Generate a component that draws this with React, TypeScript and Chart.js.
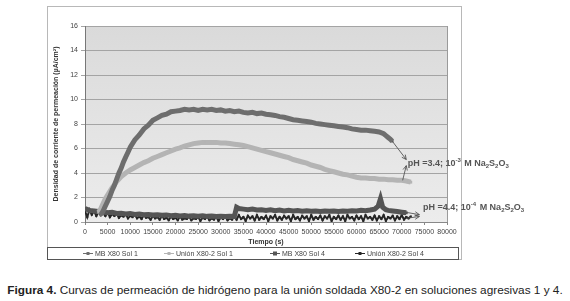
import React, { useEffect, useRef } from "react";
import { Chart, registerables } from "chart.js";

Chart.register(...registerables);

const FONT = "'Liberation Sans', Arial, sans-serif";

const xTicksRange = [0, 80000, 5000];
const yTicksRange = [0, 16, 2];

const seriesLabels = ["MB X80 Sol 1", "Unión X80-2 Sol 1", "MB X80 Sol 4", "Unión X80-2 Sol 4"];
const seriesColors = ["#6e6e6e", "#b4b4b4", "#555555", "#262626"];

const mbSol1: [number, number][] = [
  [3500, 0.6], [4000, 0.9], [4500, 1.3], [5000, 1.7], [5500, 2.1], [6000, 2.6], [6500, 3.0], [7000, 3.5],
  [7500, 4.0], [8000, 4.4], [8500, 4.9], [9000, 5.3], [9500, 5.7], [10000, 6.1], [11000, 6.7], [12000, 7.1],
  [13000, 7.6], [14000, 7.9], [15000, 8.3], [16000, 8.5], [17000, 8.7], [18000, 8.8], [19000, 9.0],
  [20000, 9.05], [21000, 9.1], [22000, 9.2], [23000, 9.15], [24000, 9.2], [25000, 9.1], [26000, 9.2],
  [27000, 9.15], [28000, 9.2], [29000, 9.1], [30000, 9.15], [31000, 9.05], [32000, 9.1], [33000, 9.0],
  [34000, 9.05], [35000, 8.95], [36000, 8.9], [37000, 8.95], [38000, 8.85], [39000, 8.9], [40000, 8.8],
  [41000, 8.75], [42000, 8.7], [43000, 8.6], [44000, 8.55], [45000, 8.45], [46000, 8.35], [47000, 8.3],
  [48000, 8.25], [49000, 8.2], [50000, 8.15], [51000, 8.05], [52000, 8.0], [53000, 7.95], [54000, 7.9],
  [55000, 7.85], [56000, 7.8], [57000, 7.75], [58000, 7.7], [59000, 7.6], [60000, 7.55], [61000, 7.5],
  [62000, 7.5], [63000, 7.45], [64000, 7.4], [65000, 7.35], [66000, 7.2], [66500, 7.05], [67000, 6.9],
  [67500, 6.75], [67900, 6.6],
];

const unionSol1: [number, number][] = [
  [3000, 0.8], [3500, 1.1], [4000, 1.5], [4500, 1.9], [5000, 2.2], [5500, 2.5], [6000, 2.8], [6500, 3.05],
  [7000, 3.3], [7500, 3.5], [8000, 3.7], [9000, 4.0], [10000, 4.25], [11000, 4.45], [12000, 4.65],
  [13000, 4.85], [14000, 5.0], [15000, 5.2], [16000, 5.35], [17000, 5.5], [18000, 5.65], [19000, 5.8],
  [20000, 5.95], [21000, 6.05], [22000, 6.2], [23000, 6.3], [24000, 6.4], [25000, 6.45], [26000, 6.5],
  [27000, 6.5], [28000, 6.5], [29000, 6.5], [30000, 6.45], [31000, 6.45], [32000, 6.4], [33000, 6.35],
  [34000, 6.3], [35000, 6.25], [36000, 6.15], [37000, 6.05], [38000, 5.95], [39000, 5.85], [40000, 5.75],
  [41000, 5.65], [42000, 5.55], [43000, 5.45], [44000, 5.35], [45000, 5.25], [46000, 5.1], [47000, 5.0],
  [48000, 4.9], [49000, 4.8], [50000, 4.65], [51000, 4.55], [52000, 4.45], [53000, 4.3], [54000, 4.2],
  [55000, 4.1], [56000, 4.0], [57000, 3.9], [58000, 3.85], [59000, 3.75], [60000, 3.65], [61000, 3.6],
  [62000, 3.6], [63000, 3.55], [64000, 3.55], [65000, 3.5], [66000, 3.5], [67000, 3.45], [68000, 3.45],
  [69000, 3.4], [70000, 3.4], [71000, 3.35], [72000, 3.25],
];

const mbSol4: [number, number][] = [
  [0, 1.1], [1000, 0.95], [2000, 0.9], [3000, 0.85], [4000, 0.8], [5000, 0.75], [6000, 0.8], [7000, 0.7],
  [8000, 0.72], [9000, 0.65], [10000, 0.7], [11000, 0.62], [12000, 0.65], [13000, 0.6], [14000, 0.62],
  [15000, 0.58], [16000, 0.6], [17000, 0.55], [18000, 0.58], [19000, 0.52], [20000, 0.55], [21000, 0.5],
  [22000, 0.53], [23000, 0.48], [24000, 0.5], [25000, 0.47], [26000, 0.5], [27000, 0.46], [28000, 0.48],
  [29000, 0.45], [30000, 0.47], [31000, 0.44], [32000, 0.46], [33000, 0.45], [33500, 1.2], [34000, 1.1],
  [35000, 1.05], [36000, 1.0], [37000, 1.05], [38000, 0.98], [39000, 1.0], [40000, 0.95], [41000, 1.0],
  [42000, 0.92], [43000, 0.97], [44000, 0.9], [45000, 0.95], [46000, 0.9], [47000, 0.93], [48000, 0.88],
  [49000, 0.92], [50000, 0.88], [51000, 0.9], [52000, 0.86], [53000, 0.9], [54000, 0.87], [55000, 0.9],
  [56000, 0.86], [57000, 0.9], [58000, 0.88], [59000, 0.92], [60000, 0.9], [61000, 0.95], [62000, 0.92],
  [63000, 0.98], [64000, 1.05], [64800, 1.3], [65300, 1.9], [65800, 1.2], [66500, 1.0], [67000, 0.95],
  [68000, 0.9], [69000, 0.85], [70000, 0.8], [71000, 0.75],
];

const unionSol4: [number, number][] = [
  [0, 0.9], [500, 0.4], [1000, 1.0], [1500, 0.6], [2000, 0.9], [2500, 0.5], [3000, 0.8], [3500, 0.55],
  [4000, 0.75], [4500, 0.5], [5000, 0.8], [5500, 0.4], [6000, 0.65], [6500, 0.5], [7000, 0.7],
  [7500, 0.35], [8000, 0.55], [8500, 0.45], [9000, 0.65], [9500, 0.3], [10000, 0.5], [10500, 0.4],
  [11000, 0.6], [11500, 0.3], [12000, 0.45], [12500, 0.25], [13000, 0.55], [13500, 0.35], [14000, 0.4],
  [14500, 0.2], [15000, 0.5], [15500, 0.3], [16000, 0.4], [16500, 0.2], [17000, 0.5], [17500, 0.25],
  [18000, 0.35], [18500, 0.15], [19000, 0.45], [19500, 0.25], [20000, 0.35], [20500, 0.15], [21000, 0.45],
  [21500, 0.2], [22000, 0.3], [22500, 0.25], [23000, 0.45], [23500, 0.15], [24000, 0.3], [24500, 0.25],
  [25000, 0.4], [25500, 0.1], [26000, 0.35], [26500, 0.25], [27000, 0.45], [27500, 0.15], [28000, 0.3],
  [28500, 0.2], [29000, 0.4], [29500, 0.1], [30000, 0.35], [30500, 0.25], [31000, 0.45], [31500, 0.15],
  [32000, 0.3], [32500, 0.2], [33000, 0.45], [33500, 0.2], [34000, 0.55], [34500, 0.25], [35000, 0.4],
  [35500, 0.1], [36000, 0.5], [36500, 0.3], [37000, 0.45], [37500, 0.15], [38000, 0.55], [38500, 0.2],
  [39000, 0.4], [39500, 0.25], [40000, 0.5], [40500, 0.1], [41000, 0.45], [41500, 0.3], [42000, 0.55],
  [42500, 0.15], [43000, 0.4], [43500, 0.2], [44000, 0.5], [44500, 0.3], [45000, 0.45], [45500, 0.1],
  [46000, 0.55], [46500, 0.25], [47000, 0.4], [47500, 0.15], [48000, 0.5], [48500, 0.3], [49000, 0.45],
  [49500, 0.1], [50000, 0.55], [50500, 0.2], [51000, 0.4], [51500, 0.25], [52000, 0.5], [52500, 0.15],
  [53000, 0.45], [53500, 0.3], [54000, 0.55], [54500, 0.1], [55000, 0.4], [55500, 0.25], [56000, 0.5],
  [56500, 0.2], [57000, 0.45], [57500, 0.1], [58000, 0.55], [58500, 0.3], [59000, 0.4], [59500, 0.15],
  [60000, 0.5], [60500, 0.25], [61000, 0.45], [61500, 0.1], [62000, 0.55], [62500, 0.3], [63000, 0.4],
  [63500, 0.2], [64000, 0.5], [64500, 0.15], [65000, 0.45], [65500, 0.25], [66000, 0.55], [66500, 0.1],
  [67000, 0.4], [67500, 0.3], [68000, 0.5], [68500, 0.15], [69000, 0.45], [69500, 0.25], [70000, 0.55],
  [70500, 0.2], [71000, 0.4], [71500, 0.3], [72000, 0.45],
];

// label segments: [text, kind] kind: n normal, u superscript, d subscript
const noteSegments: [string, string][][] = [
  [["pH =3.4; 10", "n"], ["-3", "u"], [" M Na", "n"], ["2", "d"], ["S", "n"], ["2", "d"], ["O", "n"], ["3", "d"]],
  [["pH =4.4; 10", "n"], ["-4", "u"], [" M Na", "n"], ["2", "d"], ["S", "n"], ["2", "d"], ["O", "n"], ["3", "d"]],
];
const noteAnchors: [number, number][] = [[71300, 4.85], [74700, 1.25]];
const noteArrows: [number, number, number, number][] = [
  [67900, 6.6, 71000, 5.1],
  [70200, 3.4, 71000, 4.6],
  [70000, 0.85, 73900, 0.6],
  [71000, 0.3, 73900, 0.45],
];

const yTitle = "Densidad de corriente de permeación (µA/cm²)";
const xTitle = "Tiempo (s)";

function drawArrow(ctx: CanvasRenderingContext2D, x1: number, y1: number, x2: number, y2: number) {
  const a = Math.atan2(y2 - y1, x2 - x1);
  const h = 5;
  ctx.beginPath();
  ctx.moveTo(x1, y1);
  ctx.lineTo(x2, y2);
  ctx.moveTo(x2 - h * Math.cos(a - 0.45), y2 - h * Math.sin(a - 0.45));
  ctx.lineTo(x2, y2);
  ctx.lineTo(x2 - h * Math.cos(a + 0.45), y2 - h * Math.sin(a + 0.45));
  ctx.stroke();
}

const decorPlugin = {
  id: "decor",
  beforeDraw(chart: any) {
    const { ctx, chartArea } = chart;
    ctx.save();
    ctx.fillStyle = "#ffffff";
    ctx.fillRect(0, 0, chart.width, chart.height);
    ctx.strokeStyle = "#b8b8b8";
    ctx.lineWidth = 1;
    ctx.strokeRect(47.5, 6.5, 414, 253);
    const g = ctx.createLinearGradient(0, chartArea.top, 0, chartArea.bottom);
    g.addColorStop(0, "#dadada");
    g.addColorStop(1, "#ececec");
    ctx.fillStyle = g;
    ctx.fillRect(chartArea.left, chartArea.top, chartArea.right - chartArea.left, chartArea.bottom - chartArea.top);
    ctx.restore();
  },
  afterDraw(chart: any) {
    const { ctx, chartArea, scales } = chart;
    const xs = scales.x, ys = scales.y;
    ctx.save();
    ctx.strokeStyle = "#9a9a9a";
    ctx.lineWidth = 1;
    ctx.beginPath();
    ctx.moveTo(Math.round(chartArea.right) + 0.5, chartArea.top);
    ctx.lineTo(Math.round(chartArea.right) + 0.5, chartArea.bottom);
    ctx.stroke();
    ctx.strokeStyle = "#555";
    ctx.lineWidth = 0.9;
    noteArrows.forEach(([a, b, c, d]) => {
      drawArrow(ctx, xs.getPixelForValue(a), ys.getPixelForValue(b), xs.getPixelForValue(c), ys.getPixelForValue(d));
    });
    ctx.fillStyle = "#555";
    ctx.textBaseline = "alphabetic";
    ctx.textAlign = "left";
    noteSegments.forEach((segs, i) => {
      let x = xs.getPixelForValue(noteAnchors[i][0]);
      const base = ys.getPixelForValue(noteAnchors[i][1]) + 3;
      segs.forEach(([t, k]) => {
        if (k === "n") {
          ctx.font = `bold 9px ${FONT}`;
          ctx.fillText(t, x, base);
        } else {
          ctx.font = `bold 6px ${FONT}`;
          ctx.fillText(t, x, k === "u" ? base - 4 : base + 2);
        }
        x += ctx.measureText(t).width + (k === "u" ? 1 : 0);
      });
    });
    // legend
    ctx.strokeStyle = "#555";
    ctx.lineWidth = 1;
    ctx.fillStyle = "#ffffff";
    ctx.fillRect(47.5, 247.5, 411, 12);
    ctx.strokeRect(47.5, 247.5, 411, 12);
    const starts = [83, 164, 270, 355];
    ctx.font = `7px ${FONT}`;
    ctx.textBaseline = "middle";
    chart.data.datasets.forEach((ds: any, i: number) => {
      const x0 = starts[i];
      const y0 = 253.5;
      ctx.strokeStyle = ds.borderColor;
      ctx.lineWidth = 1;
      ctx.beginPath();
      ctx.moveTo(x0, y0);
      ctx.lineTo(x0 + 10, y0);
      ctx.stroke();
      ctx.fillStyle = ds.borderColor;
      const s = i === 2 ? 4 : 3;
      ctx.fillRect(x0 + 5 - s / 2, y0 - s / 2, s, s);
      ctx.fillStyle = "#444";
      ctx.fillText(ds.label, x0 + 12, y0 + 0.5);
    });
    ctx.restore();
  },
};

export default function App() {
  const ref = useRef<HTMLCanvasElement | null>(null);
  useEffect(() => {
    if (!ref.current) return;
    const toXY = (arr: [number, number][]) => arr.map(([x, y]) => ({ x, y }));
    const all = [mbSol1, unionSol1, mbSol4, unionSol4];
    const widths = [5, 5, 5, 2];
    const radii = [2, 2, 2, 1.5];
    const chart = new Chart(ref.current, {
      type: "line",
      data: {
        datasets: all.map((d, i) => ({
          label: seriesLabels[i],
          data: toXY(d),
          borderColor: seriesColors[i],
          backgroundColor: seriesColors[i],
          borderWidth: widths[i],
          pointStyle: "rect",
          pointRadius: radii[i],
          pointBorderWidth: 0,
          tension: 0,
          fill: false,
        })),
      },
      options: {
        animation: false,
        responsive: false,
        maintainAspectRatio: false,
        layout: { padding: { left: 50, right: 123, top: 26, bottom: 15 } },
        plugins: { legend: { display: false }, tooltip: { enabled: false } },
        scales: {
          x: {
            type: "linear",
            min: xTicksRange[0],
            max: xTicksRange[1],
            afterFit: (s: any) => { s.height = 25; },
            ticks: {
              stepSize: xTicksRange[2],
              autoSkip: false,
              maxRotation: 0,
              minRotation: 0,
              padding: 3,
              color: "#444",
              font: { size: 7, family: FONT },
              callback: (v: any) => String(v),
            },
            grid: { drawOnChartArea: false, drawTicks: true, tickLength: 3, color: "#888" },
            border: { color: "#888", width: 1 },
            title: { display: true, text: xTitle, color: "#333", font: { size: 7, weight: "bold", family: FONT }, padding: { top: 0, bottom: 1 } },
          },
          y: {
            min: yTicksRange[0],
            max: yTicksRange[1],
            afterFit: (s: any) => { s.width = 35; },
            ticks: { stepSize: yTicksRange[2], padding: 3, color: "#444", font: { size: 7, family: FONT } },
            grid: { color: "#a4a4a4", lineWidth: 1, tickLength: 4 },
            border: { color: "#777", width: 1 },
            title: { display: true, text: yTitle, color: "#333", font: { size: 7, weight: "bold", family: FONT }, padding: { top: 2, bottom: 0 } },
          },
        },
      },
      plugins: [decorPlugin],
    });
    return () => chart.destroy();
  }, []);
  return (
    <div style={{ position: "absolute", left: 0, top: 0, width: 570, height: 301, background: "#fff" }}>
      <canvas ref={ref} width={570} height={262} style={{ display: "block", width: 570, height: 262 }} />
      <div
        style={{
          position: "absolute",
          left: 0,
          top: 283,
          width: 570,
          textAlign: "center",
          fontFamily: FONT,
          fontSize: 11.8,
          color: "#222",
          whiteSpace: "nowrap",
        }}
      >
        <b>Figura 4.</b> Curvas de permeación de hidrógeno para la unión soldada X80-2 en soluciones agresivas 1 y 4.
      </div>
    </div>
  );
}
